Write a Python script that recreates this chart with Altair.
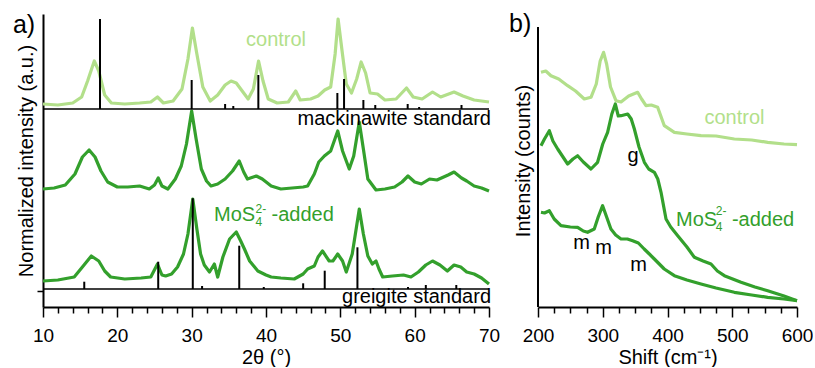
import altair as alt
import pandas as pd

FONT = "Liberation Sans"
LIGHT = "#b2df8a"
DARK = "#33a02c"

# ---------------- a) XRD ----------------
xrd_control_2theta = [10.0, 12.0, 14.0, 15.2, 16.0, 16.9, 17.5, 18.3, 19.2, 21.0, 23.0, 24.5, 25.4, 26.2,
                      27.5, 28.7, 29.5, 30.1, 30.7, 31.5, 32.5, 33.5, 34.5, 35.3, 36.0, 36.8, 37.6, 38.3,
                      39.0, 39.6, 40.3, 41.5, 43.0, 44.0, 44.6, 46.0, 47.0, 47.9, 48.7, 49.3, 49.7, 50.2,
                      50.8, 51.5, 52.2, 52.8, 53.4, 54.0, 55.0, 56.0, 57.5, 58.9, 59.8, 61.0, 62.4, 63.5,
                      65.3, 66.5, 68.0, 70.0]
xrd_control_int = [203, 202, 204, 210, 226, 246, 236, 212, 204, 203, 204, 205, 210, 204,
                   206, 218, 248, 279, 253, 220, 206, 212, 222, 226, 224, 216, 208, 218,
                   246, 226, 208, 204, 205, 216, 207, 208, 211, 217, 220, 253, 288, 258,
                   223, 214, 228, 245, 234, 214, 213, 207, 208, 219, 210, 208, 215, 210,
                   215, 211, 207, 205]

xrd_mos4a_2theta = [10.0, 11.5, 13.0, 14.3, 15.3, 16.2, 17.0, 17.8, 18.7, 20.0, 21.4, 23.0, 24.3, 25.0,
                    25.5, 26.0, 26.8, 27.8, 28.6, 29.3, 30.0, 30.6, 31.3, 32.0, 32.6, 33.5, 34.5, 35.5,
                    36.4, 37.0, 37.5, 38.7, 39.5, 40.7, 42.0, 43.5, 45.0, 45.6, 46.5, 47.1, 47.85, 48.7,
                    49.65, 50.3, 51.2, 51.8, 52.55, 53.1, 53.7, 54.8, 56.0, 57.3, 58.3, 59.1, 60.0, 60.9,
                    62.0, 63.0, 64.5, 65.3, 66.3, 67.0, 68.0, 69.0, 70.0]
xrd_mos4a_int = [118, 119, 122, 133, 150, 157, 150, 136, 125, 120, 120, 121, 118, 122,
                 129, 121, 118, 128, 141, 163, 196, 168, 138, 126, 121, 123, 128, 136,
                 146, 135, 128, 131, 128, 121, 118, 119, 120, 121, 133, 145, 151, 156,
                 176, 156, 138, 151, 185, 158, 128, 117, 118, 120, 125, 131, 125, 123,
                 128, 127, 132, 135, 129, 126, 121, 119, 116]

xrd_mos4b_2theta = [10.0, 12.0, 14.2, 15.3, 16.5, 17.5, 18.3, 19.1, 21.0, 23.2, 24.5, 25.4, 26.0, 26.5,
                    27.3, 28.1, 28.9, 29.5, 30.15, 30.7, 31.2, 31.7, 32.4, 33.05, 33.5, 34.2, 35.1, 36.0,
                    36.6, 37.1, 37.8, 38.9, 40.0, 40.7, 42.0, 43.8, 45.0, 45.6, 46.5, 47.0, 47.6, 48.5,
                    49.0, 49.65, 50.3, 50.8, 51.6, 52.55, 53.1, 53.7, 54.3, 54.8, 55.2, 55.7, 57.0, 58.5,
                    59.5, 60.5, 61.5, 62.4, 63.4, 64.4, 65.3, 66.2, 67.0, 68.0, 69.0, 70.0]
xrd_mos4b_int = [26, 27, 30, 40, 51, 46, 36, 30, 28, 29, 30, 43, 32, 31,
                 33, 40, 53, 73, 108, 78, 53, 42, 35, 43, 30, 50, 68, 75,
                 66, 58, 46, 36, 32, 30, 29, 28, 33, 38, 41, 50, 56, 46,
                 46, 53, 46, 35, 53, 98, 73, 51, 43, 46, 38, 30, 31, 32,
                 30, 35, 42, 46, 42, 36, 42, 40, 35, 33, 29, 23]

mack_base = 198
mack_pos = [17.67, 30.0, 34.5, 35.6, 38.97, 49.6, 50.5, 53.1, 54.7, 59.06, 60.6, 66.3]
mack_top = [288, 227, 203, 201, 232, 214, 228, 207, 202, 203, 200, 202]

greig_base = 18
greig_pos = [15.55, 25.5, 30.15, 31.4, 36.4, 39.7, 45.0, 47.9, 52.3, 59.1, 61.5, 65.6]
greig_top = [25.3, 45.3, 108.7, 21, 61.3, 20, 23.7, 36.3, 59.7, 20, 22, 22]

# ---------------- b) Raman ----------------
raman_control_shift = [204.6, 212, 220, 232, 245.8, 258, 271.5, 281.8, 290, 296, 301.3, 306, 312, 320.4,
                       328.2, 340, 353.9, 360, 366.8, 375, 384.8, 395.1, 410.6, 430, 451.7, 475, 503.2,
                       530, 554.7, 580, 600]
raman_control_int = [234.7, 236, 231.3, 228, 221.3, 216, 208, 209.7, 223, 246, 254.7, 243, 220, 206.3,
                     205, 211, 214.7, 208, 201.3, 202, 199.7, 181.3, 174.7, 173, 171.3, 171, 168,
                     167, 164.7, 163, 162.3]

raman_mos4a_shift = [204.6, 210, 217.5, 223, 230.4, 245.8, 254, 261.2, 270, 281.8, 292, 300, 307.5, 314,
                     319.4, 324, 328.2, 338.5, 344, 348.8, 356, 364.3, 371, 379.7, 385, 390, 397.7, 405,
                     415.8, 430, 441.5, 455, 467.2, 477, 487.8, 513.5, 535, 554.7, 580, 600]
raman_mos4a_int = [161.3, 168, 176.3, 166, 158, 143, 148, 151.3, 145, 138, 144.7, 163, 174.7, 193,
                   203, 191, 191.3, 193, 188, 178, 160, 144.7, 138, 134.7, 128, 114.7, 88, 80,
                   71.3, 60, 49.7, 46, 43, 36, 31.3, 24.7, 20, 16.3, 11, 6.3]

raman_mos4b_shift = [204.6, 210, 217.5, 225, 235.5, 250, 261.2, 270, 276.6, 286.9, 293, 299.8, 306, 312.6,
                     320, 328.2, 338, 346.2, 355, 364, 372, 379.7, 395, 410.6, 430, 451.7, 475, 503.2,
                     530, 554.7, 580, 600]
raman_mos4b_int = [94.7, 94, 96.3, 88, 81.3, 80, 79.7, 76, 74.7, 78, 90, 101.3, 90, 78,
                   72, 68, 68, 66.3, 64, 58, 53, 48, 38, 31.3, 27, 23, 19, 14.7,
                   12, 9.7, 8, 6.3]

xrd_ticks = [10, 12, 14, 16, 18, 20, 22, 24, 26, 28, 30, 32, 34, 36, 38, 40, 42, 44, 46, 48, 50,
             52, 54, 56, 58, 60, 62, 64, 66, 68, 70]
raman_ticks = [200, 225, 250, 275, 300, 325, 350, 375, 400, 425, 450, 475, 500, 525, 550, 575, 600]

# ---------------- scales / axes ----------------
y_sc = alt.Scale(domain=[0, 293], nice=False, zero=False)
xl_sc = alt.Scale(domain=[10, 70], nice=False, zero=False)
xr_sc = alt.Scale(domain=[200, 600], nice=False, zero=False)

AX = dict(domainColor="black", domainWidth=2, tickColor="black", tickWidth=1.5,
          labelFont=FONT, labelFontSize=19, labelColor="black", grid=False,
          titleFont=FONT, titleFontSize=20, titleFontWeight="normal", titleColor="black")

xl_axis = alt.Axis(values=xrd_ticks, title="2θ (°)", labelExpr="datum.value % 10 === 0 ? datum.label : ''",
                   tickSize={"condition": {"test": "datum.value % 10 === 0", "value": 10}, "value": 6},
                   labelFlush=False, labelOverlap=False, labelPadding=9, titlePadding=2, **AX)
xr_axis = alt.Axis(values=raman_ticks, title="Shift (cm⁻¹)", labelExpr="datum.value % 100 === 0 ? datum.label : ''",
                   tickSize={"condition": {"test": "datum.value % 100 === 0", "value": 10}, "value": 6},
                   labelFlush=False, labelOverlap=False, labelPadding=9, titlePadding=2, **AX)
yl_axis = alt.Axis(values=[16.3], labels=False, tickSize=6, title="Normalized intensity (a.u.)",
                   titlePadding=0, **AX)
yr_axis = alt.Axis(values=[], labels=False, ticks=False, domain=False, title="Intensity (counts)",
                   titlePadding=5, **AX)

XL = alt.X("x:Q", scale=xl_sc, axis=xl_axis)
XR = alt.X("x:Q", scale=xr_sc, axis=xr_axis)
YL = alt.Y("y:Q", scale=y_sc, axis=yl_axis)
YR = alt.Y("y:Q", scale=y_sc, axis=yr_axis)


def line(xs, ys, color, X, Y):
    return alt.Chart(pd.DataFrame({"x": xs, "y": ys})).mark_line(
        color=color, strokeWidth=3.2, strokeJoin="round").encode(x=X, y=Y)


def sticks(pos, tops, base):
    df = pd.DataFrame({"x": pos, "y": [base] * len(pos), "y2": tops})
    return alt.Chart(df).mark_rule(color="black", strokeWidth=2).encode(x=XL, y=YL, y2="y2:Q")


def baseline(base):
    df = pd.DataFrame({"x": [10], "x2": [70], "y": [base]})
    return alt.Chart(df).mark_rule(color="black", strokeWidth=1.5).encode(x=XL, x2="x2:Q", y=YL)


def texts(xs, ys, ts, X, Y, **kw):
    df = pd.DataFrame({"x": xs, "y": ys, "t": ts})
    props = dict(font=FONT, fontSize=20, baseline="alphabetic", align="left", color="black")
    props.update(kw)
    return alt.Chart(df).mark_text(**props).encode(x=X, y=Y, text="t:N")


left = alt.layer(
    line(xrd_control_2theta, xrd_control_int, LIGHT, XL, YL),
    line(xrd_mos4a_2theta, xrd_mos4a_int, DARK, XL, YL),
    line(xrd_mos4b_2theta, xrd_mos4b_int, DARK, XL, YL),
    baseline(mack_base),
    sticks(mack_pos, mack_top, mack_base),
    baseline(greig_base),
    sticks(greig_pos, greig_top, greig_base),
    texts([5.96], [274], ["a)"], XL, YL, fontSize=25),
    texts([41.35], [261.3], ["control"], XL, YL, color=LIGHT, align="center"),
    texts([70.27, 70.27], [182, 4], ["mackinawite standard", "greigite standard"], XL, YL, align="right"),
    texts([33.0, 40.75], [86.3, 86.3], ["MoS", "-added"], XL, YL, color=DARK),
    texts([38.6, 38.6], [81.3, 94], ["4", "2-"], XL, YL, color=DARK, fontSize=12),
).properties(width=446, height=293)

axis_line_df = pd.DataFrame({"x": [200], "y": [0], "y2": [280]})
right = alt.layer(
    line(raman_control_shift, raman_control_int, LIGHT, XR, YR),
    line(raman_mos4a_shift, raman_mos4a_int, DARK, XR, YR),
    line(raman_mos4b_shift, raman_mos4b_int, DARK, XR, YR),
    alt.Chart(axis_line_df).mark_rule(color="black", strokeWidth=2).encode(x=XR, y=YR, y2="y2:Q"),
    texts([155.2], [275], ["b)"], XR, YR, fontSize=25),
    texts([503.5], [183], ["control"], XR, YR, color=LIGHT, align="center"),
    texts([346.7, 267.2, 301.2, 355.2], [145, 58, 53, 36.3], ["g", "m", "m", "m"], XR, YR, align="center"),
    texts([413.1, 499.5], [81.3, 81.3], ["MoS", "-added"], XR, YR, color=DARK),
    texts([474.5, 474.5], [76, 92], ["4", "2-"], XR, YR, color=DARK, fontSize=12),
).properties(width=259, height=293)

chart = alt.hconcat(left, right, spacing=8).properties(
    padding={"left": 12, "top": 12, "right": 0, "bottom": 0},
    background="white",
).configure_view(stroke=None)

chart.save("out.html", embed_options={"renderer": "svg", "actions": False})
